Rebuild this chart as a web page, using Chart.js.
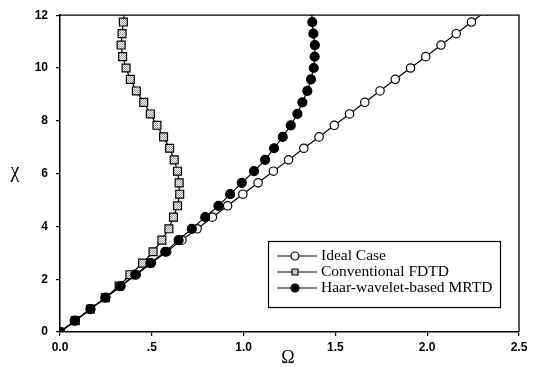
<!DOCTYPE html>
<html>
<head>
<meta charset="utf-8">
<script src="https://cdn.jsdelivr.net/npm/chart.js@4/dist/chart.umd.min.js"></script>
<style>
  html, body { margin: 0; padding: 0; background: #fff; }
  canvas { display: block; }
</style>
</head>
<body>
<canvas id="dispersion" width="539" height="367"></canvas>
<script>
// chi values shared by all three curves (last one sits just above the frame)
var chi = [0, 0.43, 0.87, 1.30, 1.74, 2.17, 2.61, 3.04, 3.48, 3.91, 4.35, 4.78, 5.22, 5.65,
           6.09, 6.52, 6.96, 7.39, 7.83, 8.26, 8.70, 9.13, 9.57, 10.00, 10.43, 10.87, 11.30, 11.74, 12.17];

// omega, one per chi
var idealOmega = [0, 0.083, 0.166, 0.249, 0.332, 0.415, 0.498, 0.581, 0.664, 0.747, 0.830, 0.913, 0.996, 1.079,
                  1.162, 1.245, 1.328, 1.411, 1.494, 1.577, 1.660, 1.743, 1.826, 1.909, 1.992, 2.075, 2.158, 2.241, 2.324];
var fdtdOmega = [0, 0.083, 0.166, 0.247, 0.322, 0.381, 0.450, 0.507, 0.555, 0.593, 0.618, 0.640, 0.652, 0.649,
                 0.640, 0.622, 0.597, 0.564, 0.528, 0.492, 0.456, 0.416, 0.383, 0.360, 0.341, 0.333, 0.338, 0.345, 0.348];
var mrtdOmega = [0, 0.080, 0.166, 0.247, 0.329, 0.410, 0.492, 0.573, 0.646, 0.718, 0.791, 0.863, 0.927, 0.990,
                 1.057, 1.117, 1.166, 1.213, 1.257, 1.293, 1.320, 1.347, 1.367, 1.382, 1.387, 1.388, 1.380, 1.374, 1.370];

var seriesNames = ["Ideal Case", "Conventional FDTD", "Haar-wavelet-based MRTD"];
var xTickLabels = ["0.0", ".5", "1.0", "1.5", "2.0", "2.5"];
var yTickLabels = ["0", "2", "4", "6", "8", "10", "12"];

function pairUp(omega) {
    return omega.map(function (w, i) { return { x: w, y: chi[i] }; });
}

// little cross-hatched fill for the FDTD squares
var patCanvas = document.createElement("canvas");
patCanvas.width = 2; patCanvas.height = 2;
var pctx = patCanvas.getContext("2d");
pctx.fillStyle = "#fff"; pctx.fillRect(0, 0, 2, 2);
pctx.fillStyle = "#9a9a9a"; pctx.fillRect(0, 0, 1, 1); pctx.fillRect(1, 1, 1, 1);
var hatch = pctx.createPattern(patCanvas, "repeat");

var styles = [
    { pointStyle: "circle", radius: 4.2, fill: "#fff" },
    { pointStyle: "rect", radius: 5.6, fill: hatch },
    { pointStyle: "circle", radius: 4.5, fill: "#000" }
];

var decorations = {
    id: "decorations",
    afterDraw: function (chart) {
        var ctx = chart.ctx, a = chart.chartArea;
        ctx.save();
        // top and right side of the frame
        ctx.strokeStyle = "#000";
        ctx.lineWidth = 1.3;
        ctx.beginPath();
        ctx.moveTo(a.left, a.top);
        ctx.lineTo(a.right, a.top);
        ctx.lineTo(a.right, a.bottom);
        ctx.stroke();

        // axis symbols
        ctx.fillStyle = "#000";
        ctx.textAlign = "center";
        ctx.textBaseline = "middle";
        ctx.font = "20px 'Liberation Serif', serif";
        ctx.fillText("\u03c7", 15, 172);
        ctx.font = "18px 'Liberation Serif', serif";
        ctx.fillText("\u03a9", 288, 358);

        // legend box
        ctx.fillStyle = "#fff";
        ctx.fillRect(268.5, 241.5, 232, 66);
        ctx.lineWidth = 1.2;
        ctx.strokeRect(268.5, 241.5, 232, 66);
        ctx.font = "15.5px 'Liberation Serif', serif";
        ctx.textAlign = "left";
        var rows = [256, 272, 288];
        for (var i = 0; i < seriesNames.length; i++) {
            var y = rows[i];
            ctx.lineWidth = 1.2;
            ctx.beginPath();
            ctx.moveTo(277, y); ctx.lineTo(317, y);
            ctx.stroke();
            var s = styles[i];
            ctx.beginPath();
            if (s.pointStyle === "rect") {
                ctx.rect(295 - 3, y - 3, 6, 6);
            } else {
                ctx.arc(295, y, 4, 0, Math.PI * 2);
            }
            ctx.fillStyle = s.fill;
            ctx.fill();
            ctx.stroke();
            ctx.fillStyle = "#000";
            ctx.fillText(seriesNames[i], 321, y);
        }
        ctx.restore();
    }
};

var allOmega = [idealOmega, fdtdOmega, mrtdOmega];
var datasets = allOmega.map(function (omega, i) {
    return {
        label: seriesNames[i],
        data: pairUp(omega),
        showLine: true,
        borderColor: "#000",
        borderWidth: 1.2,
        pointStyle: styles[i].pointStyle,
        pointRadius: styles[i].radius,
        pointBackgroundColor: styles[i].fill,
        pointBorderColor: "#000",
        pointBorderWidth: 1.2,
        order: 2 - i
    };
});

var ctx = document.getElementById("dispersion");
var dispersionChart = new Chart(ctx, {
    type: "scatter",
    data: { datasets: datasets },
    options: {
        responsive: false,
        animation: false,
        devicePixelRatio: 1,
        layout: { padding: { top: 11, right: 20, left: 0, bottom: 0 } },
        plugins: {
            legend: { display: false },
            tooltip: { enabled: false }
        },
        scales: {
            x: {
                type: "linear",
                min: 0,
                max: 2.5,
                afterFit: function (scale) { scale.height = 35; },
                grid: { drawOnChartArea: false, drawTicks: true, tickLength: 4, color: "#000", lineWidth: 1.2 },
                border: { display: true, color: "#000", width: 1.5 },
                ticks: {
                    stepSize: 0.5,
                    padding: 4,
                    color: "#000",
                    maxRotation: 0,
                    font: { family: "'Liberation Sans', Arial, sans-serif", size: 12, weight: "bold" },
                    callback: function (value, index) { return xTickLabels[index]; }
                }
            },
            y: {
                type: "linear",
                min: 0,
                max: 12,
                afterFit: function (scale) { scale.width = 60; },
                grid: { drawOnChartArea: false, drawTicks: true, tickLength: 4, color: "#000", lineWidth: 1.2 },
                border: { display: true, color: "#000", width: 1.5 },
                ticks: {
                    stepSize: 2,
                    padding: 8,
                    color: "#000",
                    font: { family: "'Liberation Sans', Arial, sans-serif", size: 12, weight: "bold" },
                    callback: function (value, index) { return yTickLabels[index]; }
                }
            }
        }
    },
    plugins: [decorations]
});
</script>
</body>
</html>
